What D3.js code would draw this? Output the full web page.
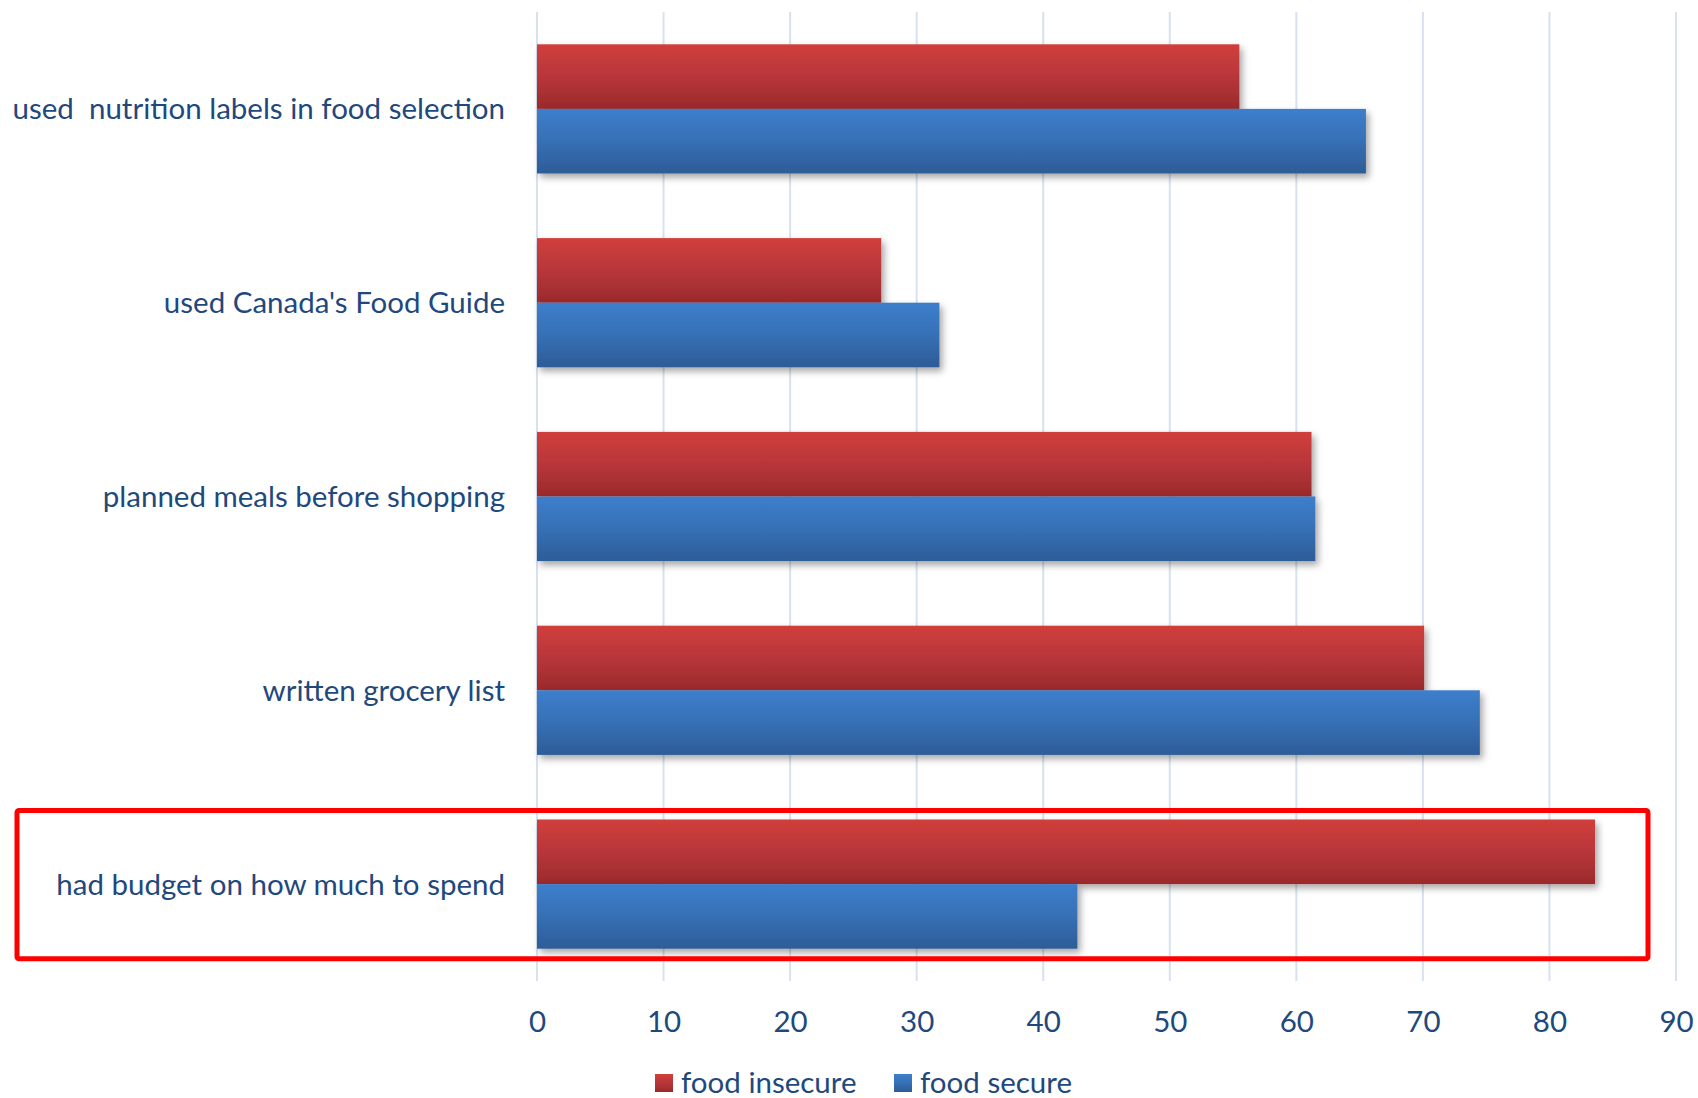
<!DOCTYPE html>
<html>
<head>
<meta charset="utf-8">
<script src="https://cdn.jsdelivr.net/npm/d3@7"></script>
<style>
  html, body { margin: 0; padding: 0; background: #ffffff; }
  svg { display: block; }
  text { font-family: Lato, "Open Sans", sans-serif; fill: #1F497D; }
</style>
</head>
<body>
<svg id="chart" width="1698" height="1098"></svg>
<script>
// Share of households (%) using each food-shopping practice
const categories = [
  "used  nutrition labels in food selection",
  "used Canada's Food Guide",
  "planned meals before shopping",
  "written grocery list",
  "had budget on how much to spend"
];
const seriesNames = ["food insecure", "food secure"];
const foodInsecure = [55.5, 27.2, 61.2, 70.1, 83.6];
const foodSecure = [65.5, 31.8, 61.5, 74.5, 42.7];
const xTicks = [0, 10, 20, 30, 40, 50, 60, 70, 80, 90];
const highlighted = "had budget on how much to spend";

const svg = d3.select("#chart");
const plot = { left: 537, right: 1676, top: 12, bottom: 981 };
const fontSize = 29.5;

const x = d3.scaleLinear().domain([0, 90]).range([plot.left, plot.right]);
const y = d3.scaleBand().domain(categories).range([plot.top, plot.bottom])
  .paddingInner(1 / 3).paddingOuter(1 / 6);
const ySub = d3.scaleBand().domain(seriesNames).range([0, y.bandwidth()]);

const rows = categories.map((c, i) => ({
  category: c,
  values: [
    { series: "food insecure", value: foodInsecure[i] },
    { series: "food secure", value: foodSecure[i] }
  ]
}));

// gradients and shadow
const defs = svg.append("defs");
const gradStops = {
  "food insecure": ["#D03F3B", "#B8363A", "#9A2A2B"],
  "food secure": ["#3D7ECC", "#3670B5", "#2D5C97"]
};
const gradId = { "food insecure": "gradRed", "food secure": "gradBlue" };
seriesNames.forEach(s => {
  const g = defs.append("linearGradient").attr("id", gradId[s])
    .attr("x1", 0).attr("y1", 0).attr("x2", 0).attr("y2", 1);
  g.selectAll("stop").data(gradStops[s]).join("stop")
    .attr("offset", (d, i) => i / (gradStops[s].length - 1))
    .attr("stop-color", d => d);
});
const shadow = defs.append("filter").attr("id", "barShadow")
  .attr("x", "-5%").attr("y", "-20%").attr("width", "115%").attr("height", "150%");
shadow.append("feDropShadow").attr("dx", 3).attr("dy", 4)
  .attr("stdDeviation", 3.5).attr("flood-color", "#000").attr("flood-opacity", 0.35);

// vertical gridlines
svg.append("g").selectAll("line").data(xTicks).join("line")
  .attr("x1", d => x(d)).attr("x2", d => x(d))
  .attr("y1", plot.top).attr("y2", plot.bottom)
  .attr("stroke", "#D6E2F0").attr("stroke-width", 2);

// bars
const groups = svg.append("g").selectAll("g").data(rows).join("g")
  .attr("transform", d => `translate(0,${y(d.category)})`);
groups.selectAll("rect").data(d => d.values).join("rect")
  .attr("x", x(0))
  .attr("y", d => ySub(d.series))
  .attr("width", d => x(d.value) - x(0))
  .attr("height", ySub.bandwidth())
  .attr("fill", d => `url(#${gradId[d.series]})`)
  .attr("filter", "url(#barShadow)");

// category labels
svg.append("g").selectAll("text").data(categories).join("text")
  .attr("x", plot.left - 32)
  .attr("y", d => y(d) + y.bandwidth() / 2 - 1)
  .attr("text-anchor", "end")
  .attr("dominant-baseline", "central")
  .attr("font-size", fontSize)
  .style("white-space", "pre")
  .text(d => d);

// x axis tick labels
const xAxis = d3.axisBottom(x).tickValues(xTicks).tickSize(0).tickPadding(0);
const axisG = svg.append("g").attr("transform", `translate(0,${plot.bottom + 30})`).call(xAxis);
axisG.select(".domain").remove();
axisG.selectAll("text")
  .attr("font-size", fontSize)
  .attr("font-family", "Lato, 'Open Sans', sans-serif")
  .attr("fill", "#1F497D");

// legend
const legendItems = [
  { name: "food insecure", x: 655 },
  { name: "food secure", x: 894 }
];
const legend = svg.append("g").selectAll("g").data(legendItems).join("g")
  .attr("transform", d => `translate(${d.x},${1081})`);
legend.append("rect")
  .attr("x", 0).attr("y", -7).attr("width", 18).attr("height", 18)
  .attr("fill", d => `url(#${gradId[d.name]})`);
legend.append("text")
  .attr("x", 26).attr("y", 0)
  .attr("dominant-baseline", "central")
  .attr("font-size", fontSize)
  .text(d => d.name);

// highlight around the budget row
const hb = y(highlighted);
svg.append("rect")
  .attr("x", 17).attr("y", hb - 9)
  .attr("width", 1648 - 17).attr("height", y.bandwidth() + 9 + 10)
  .attr("rx", 2)
  .attr("fill", "none").attr("stroke", "#FF0000").attr("stroke-width", 5);
</script>
</body>
</html>
